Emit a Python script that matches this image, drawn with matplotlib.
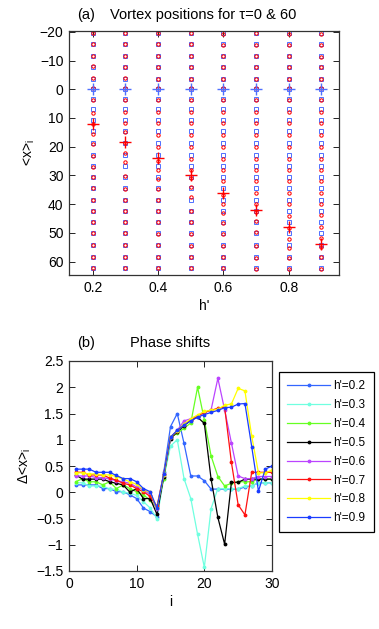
#!/usr/bin/env python3

# Vortex positions (a) and phase shifts (b)

import matplotlib as mpl
mpl.use("Agg")                              # no display

import matplotlib.pyplot as plt             # noqa
from matplotlib.ticker import FuncFormatter  # noqa

# h' values: one column in (a), one curve in (b)
hvals = [0.2, 0.3, 0.4, 0.5, 0.6, 0.7, 0.8, 0.9]
hlabels = ["h'=0.2", "h'=0.3", "h'=0.4", "h'=0.5", "h'=0.6", "h'=0.7", "h'=0.8", "h'=0.9"]
hcolors = ['#3366ff', '#70ffe0', '#66ff22', '#000000', '#bb44ff', '#ff1111', '#ffff00', '#1a3cff']

# vortex index i for panel (b)
vidx = list(range(1, 31))

# phase shift d<x>_i, one list per h'
dx02 = [0.14, 0.14, 0.14, 0.14, 0.07, 0.07, 0.01, 0.01, -0.05, -0.12, -0.30, -0.37, -0.47,
        0.38, 1.25, 1.50, 0.93, 0.31, 0.31, 0.22, 0.06, 0.06, 0.06, 0.06, 0.06, 0.10, 0.12, 0.18, 0.18, 0.18]
dx03 = [0.18, 0.18, 0.12, 0.12, 0.12, 0.06, 0.06, 0.00, -0.02, -0.06, -0.18, -0.30, -0.50,
        0.26, 0.88, 1.00, 0.26, -0.12, -0.80, -1.43, -0.31, 0.07, 0.07, 0.07, 0.07, 0.12, 0.12, 0.18, 0.18, 0.18]
dx04 = [0.20, 0.26, 0.20, 0.20, 0.14, 0.20, 0.07, 0.14, 0.07, 0.01, -0.05, -0.15, -0.30,
        0.26, 1.05, 1.12, 1.22, 1.32, 2.00, 1.38, 0.69, 0.30, 0.12, 0.17, 0.20, 0.20, 0.20, 0.25, 0.25, 0.25]
dx05 = [0.33, 0.25, 0.25, 0.25, 0.25, 0.20, 0.17, 0.14, 0.00, 0.07, -0.12, -0.12, -0.42,
        0.30, 1.02, 1.15, 1.27, 1.37, 1.43, 1.31, 0.25, -0.48, -0.99, 0.19, 0.19, 0.25, 0.25, 0.25, 0.25, 0.25]
dx06 = [0.31, 0.31, 0.31, 0.28, 0.28, 0.25, 0.22, 0.20, 0.17, 0.10, 0.05, -0.05, -0.32,
        0.33, 1.05, 1.18, 1.36, 1.40, 1.46, 1.52, 1.57, 2.17, 1.57, 0.94, 0.31, 0.26, 0.26, 0.30, 0.30, 0.30]
dx07 = [0.38, 0.38, 0.33, 0.33, 0.33, 0.27, 0.23, 0.17, 0.14, 0.07, 0.01, -0.08, -0.27,
        0.35, 1.05, 1.17, 1.29, 1.38, 1.45, 1.52, 1.56, 1.60, 1.62, 0.57, -0.24, -0.43, 0.38, 0.38, 0.38, 0.38]
dx08 = [0.37, 0.37, 0.35, 0.35, 0.33, 0.33, 0.30, 0.25, 0.20, 0.15, 0.05, 0.00, -0.30,
        0.33, 1.05, 1.17, 1.30, 1.40, 1.47, 1.54, 1.56, 1.58, 1.66, 1.68, 1.98, 1.93, 1.07, 0.37, 0.37, 0.42]
dx09 = [0.44, 0.44, 0.44, 0.38, 0.38, 0.38, 0.32, 0.26, 0.26, 0.20, 0.07, 0.01, -0.30,
        0.35, 1.05, 1.18, 1.28, 1.36, 1.43, 1.48, 1.52, 1.56, 1.61, 1.62, 1.68, 1.69, 0.87, 0.02, 0.44, 0.50]
shifts = [dx02, dx03, dx04, dx05, dx06, dx07, dx08, dx09]

# vortex positions at tau=0, vortices i = 8..29 (same for every h')
first_i = 8
x_tau0 = [-19.6, -15.7, -11.6, -7.7, -3.6, 0.0, 3.4, 7.0, 10.7, 14.7, 18.8,
          22.9, 26.7, 30.5, 34.5, 38.4, 42.3, 46.2, 50.1, 54.2, 58.3, 62.1]

# '+' marks at tau=0 and tau=60
mark_tau0 = [0, 0, 0, 0, 0, 0, 0, 0]
mark_tau60 = [12.2, 18.2, 24, 30, 36, 42, 48, 54]


def fmt(v, pos):
  s = '%g' % v
  return s.replace('-', '\u2212')


def style(ax):
  for sp in ax.spines.values():
    sp.set_color('#333333')
    sp.set_linewidth(0.9)
  ax.tick_params(direction='in', length=4, width=0.6, top=True, right=True,
                 labelsize=10, pad=4)
  ax.xaxis.set_major_formatter(FuncFormatter(fmt))
  ax.yaxis.set_major_formatter(FuncFormatter(fmt))


def makegraph():
  plt.rcParams['font.family'] = ['Liberation Sans', 'DejaVu Sans']
  plt.rcParams['mathtext.fontset'] = 'custom'
  plt.rcParams['mathtext.rm'] = 'Liberation Sans'
  plt.rcParams['mathtext.it'] = 'Liberation Sans'

  fig = plt.figure(figsize=(3.79, 6.29), dpi=100)
  W, H = 379.0, 629.0

  # #######################
  # (a) vortex positions
  ax1 = fig.add_axes([69 / W, 1 - 275 / H, 270 / W, 244 / H])
  style(ax1)
  n = len(x_tau0)
  for k, h in enumerate(hvals):
    dx = shifts[k][first_i - 1:first_i - 1 + n]
    x60 = [a + b for a, b in zip(x_tau0, dx)]
    ax1.plot([h] * n, x_tau0, linestyle='none', marker='s', ms=2.3, mfc='none',
             mec='#4f6fff', mew=0.7)
    ax1.plot([h] * n, x60, linestyle='none', marker='o', ms=2.4, mfc='none',
             mec='#ff0000', mew=0.75)
  ax1.plot(hvals, mark_tau0, linestyle='none', marker='+', ms=8.5, mew=1.0, color='#4f6fff')
  ax1.plot(hvals, mark_tau60, linestyle='none', marker='+', ms=8.5, mew=1.0, color='#ff0000')
  ax1.set_xlim(0.127, 0.954)
  ax1.set_ylim(64.7, -20.3)
  ax1.set_xticks([0.2, 0.4, 0.6, 0.8])
  ax1.set_yticks([-20, -10, 0, 10, 20, 30, 40, 50, 60])
  ax1.set_xlabel("h'", fontsize=10, labelpad=3)
  ax1.set_ylabel(r'<x>$_{\mathrm{i}}$', fontsize=10, labelpad=2)
  fig.text(86 / W, 1 - 15 / H, '(a)', ha='center', va='center', fontsize=10.5)
  fig.text(203.5 / W, 1 - 15 / H, 'Vortex positions for \u03c4=0 & 60',
           ha='center', va='center', fontsize=10.5)

  # #######################
  # (b) phase shifts
  ax2 = fig.add_axes([69 / W, 1 - 571 / H, 203 / W, 210 / H])
  style(ax2)
  for k in range(len(hvals)):
    ax2.plot(vidx, shifts[k], '-', marker='.', ms=3.5, lw=0.9,
             color=hcolors[k], label=hlabels[k])
  ax2.set_xlim(0, 30)
  ax2.set_ylim(-1.5, 2.5)
  ax2.set_xticks([0, 10, 20, 30])
  ax2.set_yticks([-1.5, -1, -0.5, 0, 0.5, 1, 1.5, 2, 2.5])
  ax2.set_xlabel('i', fontsize=10, labelpad=3)
  ax2.set_ylabel(r'$\Delta$<x>$_{\mathrm{i}}$', fontsize=10, labelpad=2)
  fig.text(86 / W, 1 - 343 / H, '(b)', ha='center', va='center', fontsize=10.5)
  fig.text(170.5 / W, 1 - 343 / H, 'Phase shifts', ha='center', va='center', fontsize=10.5)

  leg = ax2.legend(loc='upper left', bbox_to_anchor=(279 / W, 1 - 372 / H),
                   bbox_transform=fig.transFigure, borderaxespad=0, fontsize=8.5,
                   frameon=True, fancybox=False, edgecolor='black', framealpha=1,
                   handlelength=3.6, handletextpad=0.3, labelspacing=0.58,
                   borderpad=0.7, numpoints=1)
  leg.get_frame().set_linewidth(0.9)

  fig.savefig('out.png', dpi=100)


if __name__ == "__main__":
  makegraph()
